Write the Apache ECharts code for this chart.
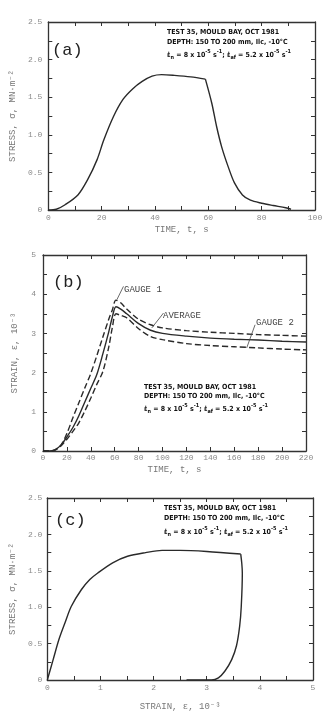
<!DOCTYPE html>
<html>
<head>
<meta charset="utf-8">
<script src="https://cdn.jsdelivr.net/npm/echarts@6/dist/echarts.min.js"></script>
<style>
  html, body { margin: 0; padding: 0; background: #fff; }
  #main { width: 335px; height: 712px; }
</style>
</head>
<body>
<div id="main"></div>
<script>
// 图 (a)：应力-时间
var timeA = [0, 3, 6.3, 11.1, 14.7, 18.3, 20.8, 24.4, 28, 31.6, 35.2, 38.9, 42.5, 47.3, 53.4, 58.9,
  61.3, 63.1, 65, 67.4, 69.8, 72.8, 75.8, 80, 84.3, 89, 91];
var stressA = [0, 0.01, 0.07, 0.2, 0.4, 0.67, 0.93, 1.24, 1.47, 1.61, 1.71, 1.78, 1.8, 1.79, 1.77, 1.74,
  1.42, 1.11, 0.84, 0.58, 0.36, 0.2, 0.13, 0.09, 0.06, 0.03, 0.01];
var peakIndexA = 15; // 卸载开始的拐点

// 图 (b)：应变-时间（两个应变计和平均值）
var timeB = [0, 5, 10, 15, 20, 25, 30, 35, 40, 45, 50, 55, 58, 61, 65, 70, 80, 90, 100, 120, 140, 160, 180, 200, 220];
var gauge1 = [0, 0, 0.03, 0.15, 0.45, 0.85, 1.23, 1.61, 1.98, 2.43, 2.9, 3.36, 3.6, 3.85, 3.78, 3.62, 3.36, 3.22, 3.14, 3.07, 3.03, 3.0, 2.97, 2.95, 2.93];
var average = [0, 0, 0.03, 0.15, 0.36, 0.6, 0.9, 1.25, 1.6, 1.95, 2.47, 3.04, 3.42, 3.68, 3.62, 3.5, 3.25, 3.08, 3.0, 2.93, 2.88, 2.85, 2.83, 2.8, 2.78];
var gauge2 = [0, 0, 0.02, 0.13, 0.3, 0.5, 0.72, 1.02, 1.35, 1.7, 2.02, 2.65, 3.15, 3.5, 3.46, 3.4, 3.12, 2.92, 2.84, 2.74, 2.69, 2.66, 2.63, 2.6, 2.58];

// 图 (c)：应力-应变
var strainC = [0, 0.11, 0.22, 0.335, 0.45, 0.64, 0.8, 0.95, 1.23, 1.51, 1.85, 2.16, 2.5, 3.0, 3.64,
  3.66, 3.67, 3.65, 3.62, 3.56, 3.47, 3.34, 3.22, 3.09, 2.62];
var stressC = [0, 0.28, 0.56, 0.79, 1.01, 1.24, 1.38, 1.47, 1.61, 1.7, 1.75, 1.78, 1.78, 1.765, 1.73,
  1.6, 1.47, 1.01, 0.74, 0.47, 0.28, 0.12, 0.03, 0, 0];
var peakIndexC = 14;

// 引线（数据坐标）
var leaderG1 = [[67.3, 4.2], [61.8, 3.86]];
var leaderAvg = [[100.8, 3.52], [91, 3.14]];
var leaderG2 = [[177.4, 3.22], [170.4, 2.63]];

var infoLine1 = 'TEST 35, MOULD BAY, OCT 1981';
var infoLine2 = 'DEPTH: 150 TO 200 mm, Ilc, -10°C';

function pairs(xs, ys, from, to) {
  var out = [];
  var end = (to === undefined) ? xs.length - 1 : to;
  for (var i = from || 0; i <= end; i++) out.push([xs[i], ys[i]]);
  return out;
}

var myChart = echarts.init(document.getElementById('main'), null, { renderer: 'canvas' });

var frameColor = '#333';
var labelColor = '#8a8a8a';
var monoFont = '"Liberation Mono", "DejaVu Sans Mono", monospace';
var condFont = '"DejaVu Sans Condensed", "Liberation Sans Narrow", "DejaVu Sans", sans-serif';

// 四周边框 + 向内刻度
function axisBase(grid, min, max, interval) {
  return {
    gridIndex: grid, type: 'value', min: min, max: max, interval: interval,
    splitLine: { show: false },
    axisLine: { onZero: false, lineStyle: { color: frameColor, width: 1.3 } },
    axisTick: { inside: true, length: 4, lineStyle: { color: frameColor, width: 1 } }
  };
}
function xAxisPair(grid, min, max, interval, fmt, name, gap, margin) {
  var base = axisBase(grid, min, max, interval);
  return [
    Object.assign({}, base, {
      position: 'bottom',
      name: name, nameLocation: 'middle', nameGap: gap,
      nameTextStyle: { color: '#777', fontFamily: monoFont, fontSize: 9 },
      axisLabel: { color: labelColor, fontFamily: monoFont, fontSize: 8, margin: margin, formatter: fmt }
    }),
    Object.assign({}, base, { position: 'top', axisLabel: { show: false } })
  ];
}
function yAxisPair(grid, min, max, interval, fmt, name, gap, margin) {
  var base = axisBase(grid, min, max, interval);
  return [
    Object.assign({}, base, {
      position: 'left',
      name: name, nameLocation: 'middle', nameGap: gap,
      nameTextStyle: { color: '#777', fontFamily: monoFont, fontSize: 9 },
      axisLabel: { color: labelColor, fontFamily: monoFont, fontSize: 8, margin: margin, formatter: fmt }
    }),
    Object.assign({}, base, { position: 'right', axisLabel: { show: false } })
  ];
}

function stressFmt(v) {
  if (v === 0) return '0';
  return (Math.abs(v * 2 - Math.round(v * 2)) < 1e-9) ? v.toFixed(1) : '';
}

var xAxes = [].concat(
  xAxisPair(0, 0, 100, 10, function (v) { return v % 20 === 0 ? v : ''; }, 'TIME, t, s', 15, 4),
  xAxisPair(1, 0, 220, 20, function (v) { return v; }, 'TIME, t, s', 14, 3),
  xAxisPair(2, 0, 5, 0.5, function (v) { return Number.isInteger(v) ? v : ''; }, 'STRAIN, ε, 10⁻³', 22, 4)
);
var yAxes = [].concat(
  yAxisPair(0, 0, 2.5, 0.25, stressFmt, 'STRESS, σ, MN·m⁻²', 29, 6),
  yAxisPair(1, 0, 5, 0.5, function (v) { return Number.isInteger(v) ? v : ''; }, 'STRAIN, ε, 10⁻³', 24, 7),
  yAxisPair(2, 0, 2.5, 0.25, stressFmt, 'STRESS, σ, MN·m⁻²', 29, 5)
);

function curve(xi, yi, data, dashed) {
  return {
    type: 'line', xAxisIndex: xi, yAxisIndex: yi, data: data,
    showSymbol: false, symbol: 'none', silent: true, animation: false,
    smooth: 0.3,
    lineStyle: { color: '#2a2a2a', width: 1.4, type: dashed ? [6, 3] : 'solid' }
  };
}
function leader(data) {
  return {
    type: 'line', xAxisIndex: 2, yAxisIndex: 2, data: data,
    showSymbol: false, symbol: 'none', silent: true, animation: false,
    lineStyle: { color: '#444', width: 0.8 }
  };
}

// 速率行（带上下标）
function rateLine(left, top) {
  return {
    type: 'text', left: left, top: top, silent: true,
    style: {
      text: '{n|ε̇}{sb|n}{n| = 8 x 10}{sp|-5}{n| s}{sp|-1}{n|; ε̇}{sb|af}{n| = 5.2 x 10}{sp|-5}{n| s}{sp|-1}',
      rich: {
        n: { fontFamily: condFont, fontWeight: 'bold', fontSize: 7, lineHeight: 12, fill: '#111' },
        sp: { fontFamily: condFont, fontWeight: 'bold', fontSize: 5.5, verticalAlign: 'top', fill: '#111' },
        sb: { fontFamily: condFont, fontWeight: 'bold', fontSize: 5.5, verticalAlign: 'bottom', fill: '#111' }
      }
    }
  };
}
function infoText(left, top, txt) {
  return {
    type: 'text', left: left, top: top, silent: true,
    style: { text: txt, fontFamily: condFont, fontWeight: 'bold', fontSize: 7, fill: '#111' }
  };
}
function panelTag(left, top, txt) {
  return {
    type: 'text', left: left, top: top, silent: true,
    style: { text: txt, fontFamily: monoFont, fontSize: 17, fill: '#222' }
  };
}
function gaugeTag(left, top, txt) {
  return {
    type: 'text', left: left, top: top, silent: true,
    style: { text: txt, fontFamily: monoFont, fontSize: 9, fill: '#444' }
  };
}

var option = {
  backgroundColor: '#fff',
  animation: false,
  grid: [
    { left: 41, top: 22, width: 274, height: 188 },
    { left: 43, top: 255, width: 263, height: 196 },
    { left: 44, top: 498, width: 269, height: 183 }
  ],
  xAxis: xAxes,
  yAxis: yAxes,
  series: [
    curve(0, 0, pairs(timeA, stressA, 0, peakIndexA), false),
    curve(0, 0, pairs(timeA, stressA, peakIndexA), false),
    curve(2, 2, pairs(timeB, gauge1), true),
    curve(2, 2, pairs(timeB, average), false),
    curve(2, 2, pairs(timeB, gauge2), true),
    leader(leaderG1),
    leader(leaderAvg),
    leader(leaderG2),
    curve(4, 4, pairs(strainC, stressC, 0, peakIndexC), false),
    curve(4, 4, pairs(strainC, stressC, peakIndexC), false)
  ],
  graphic: [
    panelTag(52, 42, '(a)'),
    infoText(167, 29, infoLine1),
    infoText(167, 39, infoLine2),
    rateLine(167, 49),

    panelTag(53, 274, '(b)'),
    gaugeTag(124, 285, 'GAUGE 1'),
    gaugeTag(163, 311, 'AVERAGE'),
    gaugeTag(256, 318, 'GAUGE 2'),
    infoText(144, 384, infoLine1),
    infoText(144, 393, infoLine2),
    rateLine(144, 403),

    panelTag(55, 512, '(c)'),
    infoText(164, 505, infoLine1),
    infoText(164, 515, infoLine2),
    rateLine(164, 526)
  ]
};

myChart.setOption(option);
</script>
</body>
</html>
